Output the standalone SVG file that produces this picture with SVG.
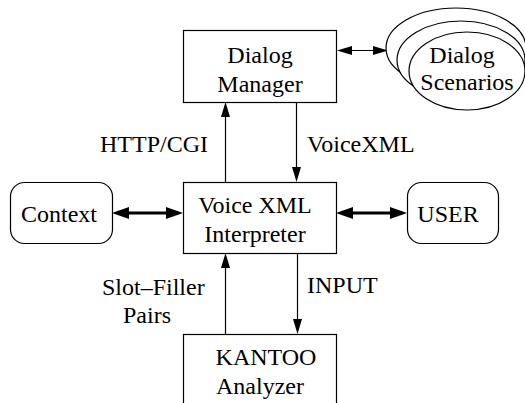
<svg xmlns="http://www.w3.org/2000/svg" width="525" height="403" viewBox="0 0 525 403">
<style>
.box{fill:#fff;stroke:#000;stroke-width:1.2}
.ell{fill:#fff;stroke:#000;stroke-width:1.2}
text{font-family:'Liberation Serif','Times New Roman',Tinos,Times,'Nimbus Roman',serif;font-size:24px;fill:#000}
.c{text-anchor:middle}
.thin{stroke:#000;stroke-width:1.2;fill:none}
.thick{stroke:#000;stroke-width:3;fill:none}
</style>
<defs>
<marker id="ah" markerUnits="userSpaceOnUse" markerWidth="15" markerHeight="10" refX="11" refY="5" orient="auto-start-reverse">
<path d="M0,0.5 L15,5 L0,9.5 z" fill="#000"/>
</marker>
<marker id="ahT" markerUnits="userSpaceOnUse" markerWidth="17" markerHeight="12" refX="12" refY="6" orient="auto-start-reverse">
<path d="M0,0 L17,6 L0,12 z" fill="#000"/>
</marker>
</defs>
<rect width="525" height="403" fill="#fff"/>
<g id="connectors">
<line class="thin" x1="225.5" y1="182" x2="225.5" y2="106" marker-end="url(#ah)"/>
<line class="thin" x1="296.5" y1="102" x2="296.5" y2="178" marker-end="url(#ah)"/>
<line class="thin" x1="225.5" y1="334" x2="225.5" y2="257" marker-end="url(#ah)"/>
<line class="thin" x1="297.5" y1="253" x2="297.5" y2="330" marker-end="url(#ah)"/>
<line class="thin" x1="341" y1="50.5" x2="384" y2="50.5" marker-start="url(#ah)" marker-end="url(#ah)"/>
<line class="thick" x1="117" y1="213" x2="178" y2="213" marker-start="url(#ahT)" marker-end="url(#ahT)"/>
<line class="thick" x1="341" y1="213" x2="402" y2="213" marker-start="url(#ahT)" marker-end="url(#ahT)"/>
</g>
<g id="dialog-manager">
<rect class="box" x="183.5" y="30.5" width="153" height="72"/>
<text class="c" x="260" y="63">Dialog</text>
<text class="c" x="260" y="92">Manager</text>
</g>
<g id="dialog-scenarios">
<ellipse class="ell" cx="456" cy="48" rx="70" ry="40"/>
<ellipse class="ell" cx="461" cy="60" rx="64" ry="39"/>
<ellipse class="ell" cx="467" cy="71" rx="58" ry="39"/>
<text class="c" x="462" y="63">Dialog</text>
<text class="c" x="467" y="90">Scenarios</text>
</g>
<g id="voicexml-interpreter">
<rect class="box" x="183.5" y="182.5" width="153" height="71"/>
<text class="c" x="255" y="213">Voice XML</text>
<text class="c" x="255" y="242">Interpreter</text>
</g>
<g id="context">
<rect class="box" x="10.5" y="182.5" width="102" height="61" rx="14"/>
<text class="c" x="59" y="222">Context</text>
</g>
<g id="user">
<rect class="box" x="407.5" y="182.5" width="91" height="61" rx="14"/>
<text class="c" x="448" y="222">USER</text>
</g>
<g id="kantoo-analyzer">
<rect class="box" x="183.5" y="334.5" width="153" height="90"/>
<text class="c" x="266" y="365">KANTOO</text>
<text class="c" x="260" y="394">Analyzer</text>
</g>
<g id="labels">
<text x="100" y="152">HTTP/CGI</text>
<text x="307" y="152">VoiceXML</text>
<text x="102" y="295">Slot–Filler</text>
<text x="123" y="323">Pairs</text>
<text x="307" y="293">INPUT</text>
</g>
</svg>
